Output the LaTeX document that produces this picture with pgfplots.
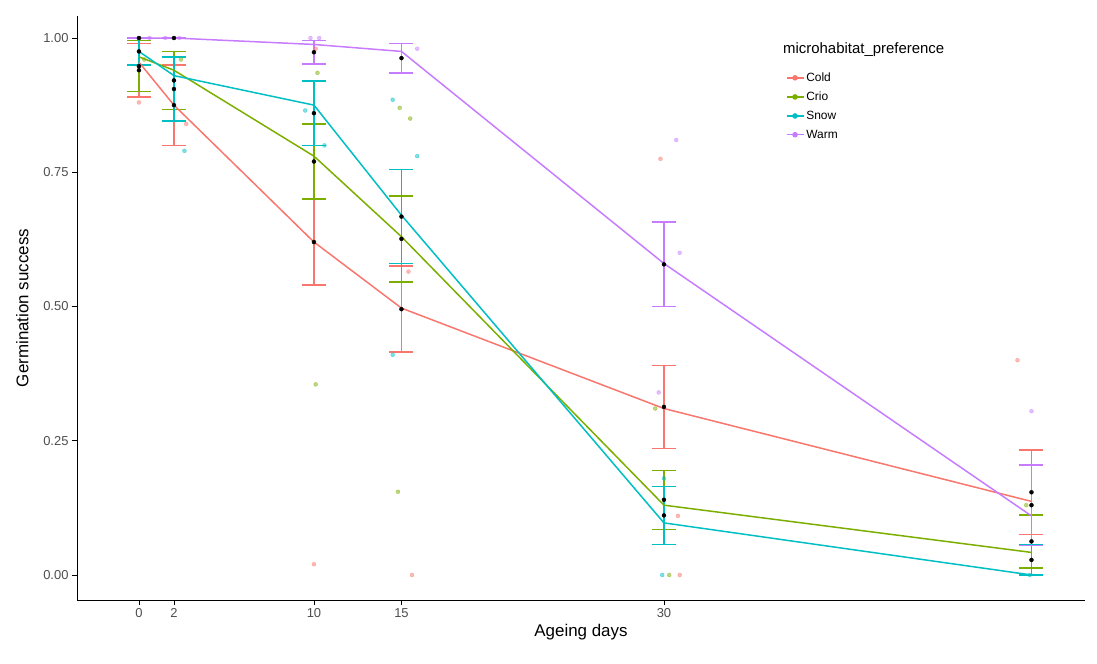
\documentclass[border=0pt]{standalone}
\usepackage{pgfplots}
\pgfplotsset{compat=1.18}
\usepackage{fontspec}
\setmainfont{Liberation Sans}
\definecolor{cold}{HTML}{F8766D}
\definecolor{crio}{HTML}{7CAE00}
\definecolor{snow}{HTML}{00BFC4}
\definecolor{warm}{HTML}{C77CFF}
\definecolor{tk}{HTML}{4D4D4D}
\begin{document}
\begin{tikzpicture}
\path (-77bp,-64bp) rectangle (1020bp,600bp);
\begin{axis}[at={(0,0)}, anchor=south west, scale only axis, width=1008bp, height=584bp,
 xmin=-3.54, xmax=54.06, ymin=-0.0466, ymax=1.0410,
 axis lines=left, axis line style={-, line width=0.9pt},
 xtick={0,2,10,15,30}, ytick={0,0.25,0.5,0.75,1},
 yticklabels={0.00,0.25,0.50,0.75,1.00},
 tick align=outside, major tick length=5bp, tick style={black, line width=0.7pt},
 ticklabel style={font=\fontsize{13}{15}\selectfont, text=tk},
 /pgf/number format/assume math mode=true,
 xlabel={Ageing days}, ylabel={Germination success},
 label style={font=\fontsize{17}{19}\selectfont},
 ylabel style={yshift=8bp},
 legend style={at={(0.70,0.91)}, anchor=north west, draw=none, fill=none,
   font=\fontsize{12}{14}\selectfont, row sep=5bp},
 legend cell align=left, clip=false]
\pgfplotsset{pts/.style={only marks, mark=*, mark size=2bp, forget plot,
  mark options={draw=#1, fill=#1, opacity=0.5}}}
\addplot[pts=cold] coordinates {
(0,0.88)(2.7,0.84)(10,0.02)(10.1,0.98)(15.4,0.565)(15.6,0)(29.8,0.775)(30.8,0.11)(30.9,0)(50.2,0.40)};
\addplot[pts=crio] coordinates {
(0.3,0.96)(2.4,0.96)(10.1,0.355)(10.2,0.935)(14.8,0.155)(14.9,0.87)(15.5,0.85)(29.5,0.31)(30.3,0)(50.7,0.13)};
\addplot[pts=snow] coordinates {
(2.6,0.79)(9.5,0.865)(10.6,0.80)(14.5,0.885)(14.5,0.41)(15.9,0.78)(30,0.18)(29.9,0)(50.9,0)};
\addplot[pts=warm] coordinates {
(0,1)(0.6,1)(1.5,1)(2.3,1)(9.8,1)(10.3,1)(15.9,0.98)(30.7,0.81)(30.9,0.60)(29.7,0.34)(51.0,0.305)};
\pgfplotsset{eb/.style={only marks, mark=none, forget plot,
  error bars/y dir=both, error bars/y explicit,
  error bars/error bar style={draw=#1, solid, line width=1.5pt},
  error bars/error mark options={draw=#1, rotate=90, mark size=12bp, line width=1.5pt}}}
\addplot[eb=cold] table[x=x, y=y, y error plus=p, y error minus=m] {
x y p m
0 0.94 0.05 0.05
2 0.875 0.075 0.075
10 0.62 0.08 0.08
15 0.495 0.08 0.08
30 0.313 0.077 0.077
51 0.154 0.079 0.079
};
\addplot[eb=crio] table[x=x, y=y, y error plus=p, y error minus=m] {
x y p m
0 0.9475 0.0475 0.0475
2 0.921 0.054 0.054
10 0.77 0.07 0.07
15 0.626 0.08 0.08
30 0.14 0.055 0.055
51 0.0625 0.0495 0.0495
};
\addplot[eb=snow] table[x=x, y=y, y error plus=p, y error minus=m] {
x y p m
0 0.975 0.025 0.025
2 0.905 0.06 0.06
10 0.86 0.06 0.06
15 0.6675 0.0875 0.0875
30 0.111 0.054 0.054
51 0.028 0.028 0.028
};
\addplot[eb=warm] table[x=x, y=y, y error plus=p, y error minus=m] {
x y p m
0 1.0 0 0
2 1.0 0 0
10 0.9735 0.0215 0.0215
15 0.9625 0.0275 0.0275
30 0.5785 0.0785 0.0785
51 0.13 0.075 0.075
};
\addplot[cold, line width=1.5pt, forget plot] coordinates {(0,0.955)(2,0.875)(10,0.62)(15,0.497)(30,0.31)(51,0.137)};
\addplot[crio, line width=1.5pt, forget plot] coordinates {(0,0.965)(2,0.94)(10,0.78)(15,0.63)(30,0.13)(51,0.042)};
\addplot[snow, line width=1.5pt, forget plot] coordinates {(0,0.975)(2,0.93)(10,0.875)(15,0.67)(30,0.097)(51,0)};
\addplot[warm, line width=1.5pt, forget plot] coordinates {(0,1.0)(2,1.0)(10,0.988)(15,0.975)(30,0.58)(51,0.11)};
\addlegendimage{cold, line width=1.5pt, mark=*, mark size=2bp}
\addlegendentry{Cold}
\addlegendimage{crio, line width=1.5pt, mark=*, mark size=2bp}
\addlegendentry{Crio}
\addlegendimage{snow, line width=1.5pt, mark=*, mark size=2bp}
\addlegendentry{Snow}
\addlegendimage{warm, line width=1.5pt, mark=*, mark size=2bp}
\addlegendentry{Warm}
\node[anchor=west, font=\fontsize{15}{17}\selectfont] at (rel axis cs:0.697,0.942) {microhabitat\_preference};
\end{axis}
\end{tikzpicture}
\end{document}
